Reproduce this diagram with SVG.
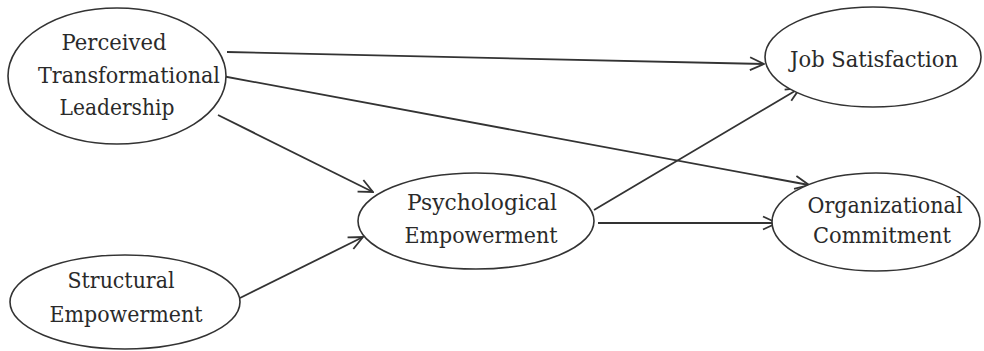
<svg xmlns="http://www.w3.org/2000/svg" width="984" height="351" viewBox="0 0 984 351">
<style>
.n{fill:#fff;stroke:#333;stroke-width:1.6}
.t{font-family:"DejaVu Serif","Liberation Serif",serif;font-size:22px;fill:#2a2a2a;text-anchor:middle}
.c{fill:none;stroke:#333;stroke-width:1.8}
</style>
<defs>
<marker id="a" viewBox="0 0 16 16" refX="15" refY="8" markerWidth="16" markerHeight="16" markerUnits="userSpaceOnUse" orient="auto">
<path d="M1,1.5 L15,8 L1,14.5" fill="none" stroke="#333" stroke-width="1.8"/>
</marker>
</defs>
<rect width="984" height="351" fill="#fff"/>
<g id="connectors">
<line class="c" x1="227" y1="52" x2="764" y2="64" marker-end="url(#a)"/>
<line class="c" x1="222" y1="76" x2="809" y2="185" marker-end="url(#a)"/>
<line class="c" x1="218" y1="115" x2="373" y2="192" marker-end="url(#a)"/>
<line class="c" x1="240" y1="298" x2="363" y2="237" marker-end="url(#a)"/>
<line class="c" x1="594" y1="210" x2="800" y2="88" marker-end="url(#a)"/>
<line class="c" x1="598" y1="223" x2="777" y2="223" marker-end="url(#a)"/>
</g>
<g id="ptl">
<ellipse class="n" cx="117" cy="76" rx="109" ry="68"/>
<text class="t" x="114" y="50" textLength="105" lengthAdjust="spacingAndGlyphs">Perceived</text>
<text class="t" x="129" y="83" textLength="182" lengthAdjust="spacingAndGlyphs">Transformational</text>
<text class="t" x="117" y="115" textLength="115" lengthAdjust="spacingAndGlyphs">Leadership</text>
</g>
<g id="js">
<ellipse class="n" cx="873" cy="57" rx="108" ry="50"/>
<text class="t" x="874" y="67" textLength="168" lengthAdjust="spacingAndGlyphs">Job Satisfaction</text>
</g>
<g id="oc">
<ellipse class="n" cx="876" cy="222" rx="104" ry="49"/>
<text class="t" x="885" y="213" textLength="155" lengthAdjust="spacingAndGlyphs">Organizational</text>
<text class="t" x="882" y="243" textLength="138" lengthAdjust="spacingAndGlyphs">Commitment</text>
</g>
<g id="pe">
<ellipse class="n" cx="476" cy="221" rx="118" ry="48"/>
<text class="t" x="482" y="210" textLength="150" lengthAdjust="spacingAndGlyphs">Psychological</text>
<text class="t" x="481" y="243" textLength="153" lengthAdjust="spacingAndGlyphs">Empowerment</text>
</g>
<g id="se">
<ellipse class="n" cx="125" cy="302" rx="115" ry="47"/>
<text class="t" x="121" y="288" textLength="107" lengthAdjust="spacingAndGlyphs">Structural</text>
<text class="t" x="126" y="322" textLength="153" lengthAdjust="spacingAndGlyphs">Empowerment</text>
</g>
</svg>
